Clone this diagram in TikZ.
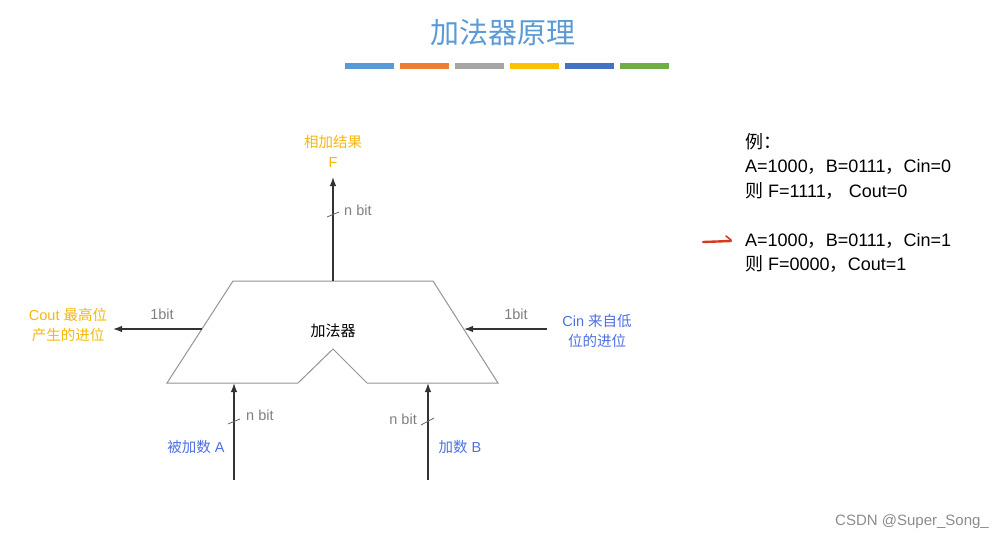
\documentclass[tikz,border=0pt]{standalone}
\usepackage{fontspec}
\setmainfont{Liberation Sans}
\newfontfamily\cjk{Noto Sans CJK SC}
\usetikzlibrary{arrows.meta}
\definecolor{titleblue}{HTML}{5B9BD5}
\definecolor{barorange}{HTML}{ED7D31}
\definecolor{bargray}{HTML}{A5A5A5}
\definecolor{bargold}{HTML}{FFC000}
\definecolor{bardark}{HTML}{4472C4}
\definecolor{bargreen}{HTML}{70AD47}
\definecolor{labgold}{HTML}{F5B80A}
\definecolor{labblue}{HTML}{4F6FE3}
\definecolor{labgray}{HTML}{7F7F7F}
\definecolor{markred}{HTML}{D6391E}

\begin{document}
\begin{tikzpicture}[x=1pt,y=-1pt,
		font=\fontsize{14.5}{20}\selectfont,
		arr/.style={draw=black!80,line width=1.3pt,-{Latex[length=9pt,width=6.5pt]}},
		box/.style={draw=black!42,line width=1pt},
		slash/.style={draw=black!60,line width=0.8pt},
		bitlab/.style={text=labgray,inner sep=0pt},
		outlab/.style={text=labgold,align=center,inner sep=0pt},
		inlab/.style={text=labblue,align=center,inner sep=0pt},
		exlab/.style={align=left,anchor=north west,inner sep=0pt,font=\fontsize{18}{24.5}\selectfont}]
	\useasboundingbox (0,0) rectangle (1008,538);
	\node[text=titleblue,font=\cjk\fontsize{29}{32}\selectfont] (title) at (503,32) {加法器原理};
	\foreach \c [count=\i] in {titleblue,barorange,bargray,bargold,bardark,bargreen}
		\fill[\c] ({345+55*(\i-1)},63) rectangle ++(49,6);
	\coordinate (TL) at (233,281);
	\coordinate (TR) at (433,281);
	\coordinate (BR) at (498,383);
	\coordinate (NR) at (367,383);
	\coordinate (NP) at (333,349);
	\coordinate (NL) at (298,383);
	\coordinate (BL) at (167,383);
	\draw[box] (TL) -- (TR) -- (BR) -- (NR) -- (NP) -- (NL) -- (BL) -- cycle;
	\node[font=\cjk\fontsize{15}{18}\selectfont] (add) at (333,331) {加法器};
	% output F
	\coordinate (TM) at (333,281);
	\coordinate (FT) at (333,177);
	\draw[arr] (TM) -- (FT);
	\draw[slash] (327,217) -- (339,212);
	\node[bitlab,anchor=west] (nF) at (344,210) {n bit};
	\node[outlab] (F) at (333,151) {{\cjk 相加结果}\\F};
	% carry out
	\coordinate (CO) at (202,329);
	\coordinate (COT) at (113,329);
	\draw[arr] (CO) -- (COT);
	\node[bitlab] (bCO) at (162,314) {1bit};
	\node[outlab] (Cout) at (68,325) {Cout {\cjk 最高位}\\{\cjk 产生的进位}};
	% carry in
	\coordinate (CI0) at (547,329);
	\coordinate (CI) at (464,329);
	\draw[arr] (CI0) -- (CI);
	\node[bitlab] (bCI) at (516,314) {1bit};
	\node[inlab] (Cin) at (597,331) {Cin {\cjk 来自低}\\{\cjk 位的进位}};
	% operands
	\coordinate (A0) at (234,480);
	\coordinate (A1) at (234,383);
	\draw[arr] (A0) -- (A1);
	\draw[slash] (228,424) -- (240,419);
	\node[bitlab,anchor=west] (nA) at (246,415) {n bit};
	\node[inlab] (A) at (196,447) {{\cjk 被加数} A};
	\coordinate (B0) at (428,480);
	\coordinate (B1) at (428,383);
	\draw[arr] (B0) -- (B1);
	\draw[slash] (421,425) -- (434,418);
	\node[bitlab,anchor=east] (nB) at (417,419) {n bit};
	\node[inlab] (B) at (460,447) {{\cjk 加数} B};
	% example
	\node[exlab] (ex1) at (745,133) {{\cjk 例：}\\A=1000{\cjk ，}B=0111{\cjk ，}Cin=0\\{\cjk 则} F=1111{\cjk ，} Cout=0};
	\node[exlab] (ex2) at (745,233) {A=1000{\cjk ，}B=0111{\cjk ，}Cin=1\\{\cjk 则} F=0000{\cjk ，}Cout=1};
	\draw[markred,line width=2.4pt,line cap=round] (703,242) -- (731,241);
	\draw[markred,line width=1.6pt,line cap=round] (726,236) -- (731,240);
	\node[text=black!45,font=\fontsize{15}{17}\selectfont] (mark) at (912,522) {CSDN @Super\_Song\_};
\end{tikzpicture}
\end{document}
